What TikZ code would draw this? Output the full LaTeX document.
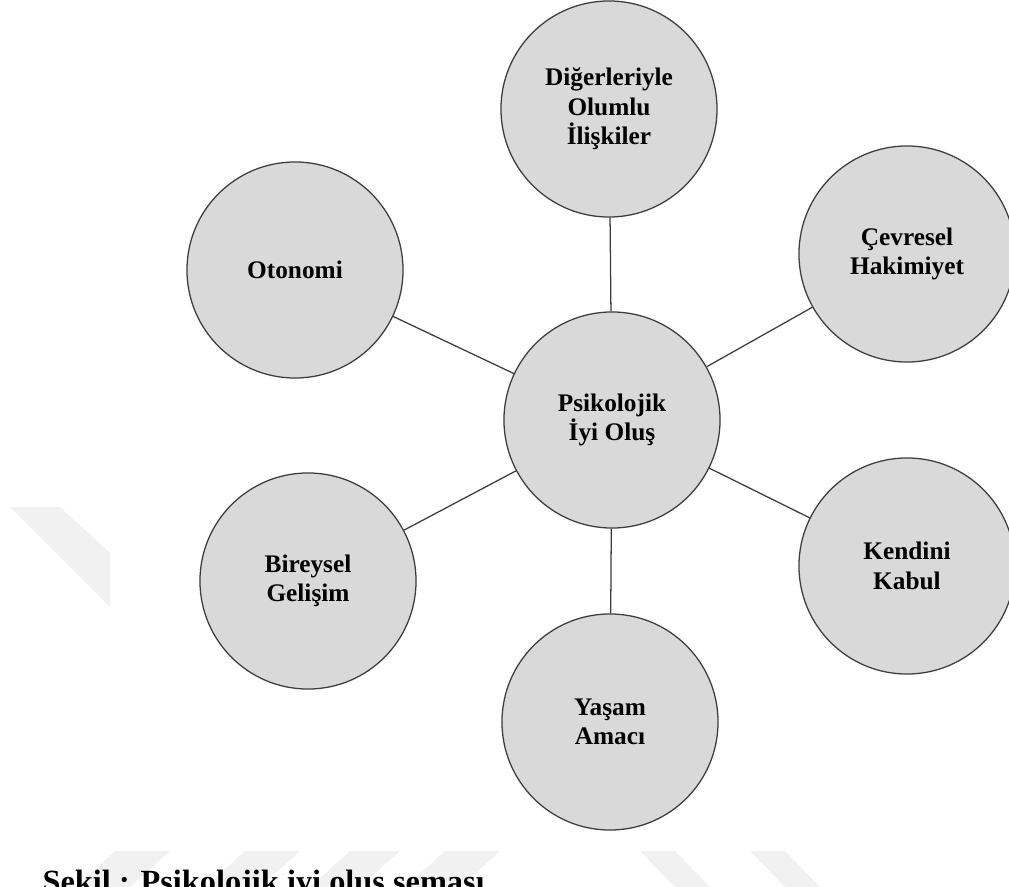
\documentclass[tikz,border=0pt]{standalone}
\usepackage{fontspec}
\setmainfont{Liberation Serif}
\usepackage{tikz}
\usetikzlibrary{positioning,calc}
\definecolor{bubblefill}{RGB}{217,217,217}
\definecolor{bubbleline}{RGB}{60,60,60}
\definecolor{markgray}{RGB}{241,241,241}
\tikzset{
    every picture/.style={line width=0.9pt},
    bubble/.style={circle,draw=bubbleline,fill=bubblefill,minimum size=5.4cm,
        inner sep=0pt,align=center,font=\fontsize{18}{21}\selectfont\bfseries},
    spoke/.style={draw=bubbleline,line width=0.9pt},
    mark band/.style={fill=markgray,draw=none}
}

\begin{document}
\begin{tikzpicture}[x=0.025cm,y=-0.025cm]
    \useasboundingbox (0,0) rectangle (1009,887);

    % faint page marks
    \fill[mark band] (10,507) -- (60,507) -- (110,553) -- (110,607) -- cycle;
    \foreach \a/\w in {115/55,245/55,350/50,445/55}
        \fill[mark band] (\a,851) -- (\a+\w,851) -- (\a+\w-40,887) -- (\a-40,887) -- cycle;
    \foreach \a/\w in {640/35,750/35}
        \fill[mark band] (\a,851) -- (\a+\w,851) -- (\a+\w+35,887) -- (\a+35,887) -- cycle;

    % centre and the six dimensions
    \node[bubble] (psi) at (612,420) {Psikolojik\\İyi Oluş};
    \node[bubble] (diger) at (609,109) {Diğerleriyle\\Olumlu\\İlişkiler};
    \node[bubble] (otonomi) at (295,270) {Otonomi};
    \node[bubble] (cevre) at (907,254) {Çevresel\\Hakimiyet};
    \node[bubble] (kendini) at (907,566) {Kendini\\Kabul};
    \node[bubble] (bireysel) at (308,581) {Bireysel\\Gelişim};
    \node[bubble] (yasam) at (610,722) {Yaşam\\Amacı};

    % spokes
    \foreach \n in {diger,otonomi,cevre,kendini,bireysel,yasam}
        \draw[spoke] (psi) -- (\n);

    % caption
    \node[anchor=base west,inner sep=0pt,font=\fontsize{23}{26}\selectfont\bfseries]
        (caption) at (42,892) {Şekil : Psikolojik iyi oluş şeması};
\end{tikzpicture}
\end{document}
